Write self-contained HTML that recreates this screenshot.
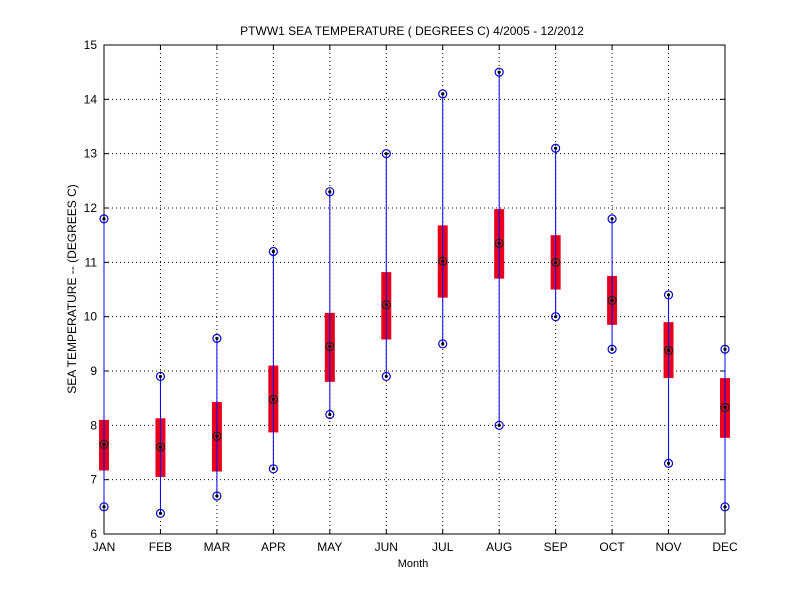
<!DOCTYPE html>
<html><head><style>body{margin:0;background:#fff}svg{display:block}</style></head><body>
<svg id="s" width="800" height="600" xmlns="http://www.w3.org/2000/svg" font-family="Liberation Sans, sans-serif" font-size="12">
<rect width="800" height="600" fill="#fff"/>
</svg>
<script>
const s=document.getElementById('s');
const X0=104,X1=725,Y0=45,Y1=534;
const xs=i=>X0+i*(X1-X0)/11, ys=v=>Y0+(15-v)*(Y1-Y0)/9;
let h='';
const m=['JAN','FEB','MAR','APR','MAY','JUN','JUL','AUG','SEP','OCT','NOV','DEC'];
for(let i=0;i<12;i++){const x=xs(i);
 h+=`<line x1="${x}" y1="${Y0}" x2="${x}" y2="${Y1}" stroke="#000" stroke-dasharray="1,3" stroke-width="1"/>`;
 h+=`<line x1="${x}" y1="${Y1}" x2="${x}" y2="${Y1-5}" stroke="#000"/><line x1="${x}" y1="${Y0}" x2="${x}" y2="${Y0+5}" stroke="#000"/>`;
 h+=`<text x="${x}" y="${Y1+17}" text-anchor="middle">${m[i]}</text>`;}
for(let v=6;v<=15;v++){const y=ys(v);
 h+=`<line x1="${X0}" y1="${y}" x2="${X1}" y2="${y}" stroke="#000" stroke-dasharray="1,3"/>`;
 h+=`<line x1="${X0}" y1="${y}" x2="${X0+5}" y2="${y}" stroke="#000"/><line x1="${X1}" y1="${y}" x2="${X1-5}" y2="${y}" stroke="#000"/>`;
 h+=`<text x="${X0-7}" y="${y+4}" text-anchor="end">${v}</text>`;}
h+=`<rect x="${X0}" y="${Y0}" width="${X1-X0}" height="${Y1-Y0}" fill="none" stroke="#000"/>`;
const d=[[11.8,6.5,7.17,8.1,7.65],[8.9,6.38,7.05,8.13,7.6],[9.6,6.7,7.15,8.43,7.8],[11.2,7.2,7.87,9.1,8.48],[12.3,8.2,8.8,10.07,9.45],[13.0,8.9,9.58,10.82,10.22],[14.1,9.5,10.35,11.68,11.02],[14.5,8.0,10.7,11.98,11.35],[13.1,10.0,10.5,11.5,11.0],[11.8,9.4,9.85,10.75,10.3],[10.4,7.3,8.87,9.9,9.38],[9.4,6.5,7.77,8.87,8.33]];
const mk=(x,y)=>`<circle cx="${x}" cy="${y}" r="4" fill="none" stroke="#0000cc" stroke-width="1.2"/><circle cx="${x}" cy="${y}" r="1.6" fill="#000"/>`;
d.forEach((r,i)=>{const x=xs(i);
 h+=`<line x1="${x}" y1="${ys(r[0])}" x2="${x}" y2="${ys(r[1])}" stroke="#0000ff"/>`;
 h+=`<rect x="${x-5}" y="${ys(r[3])}" width="10" height="${ys(r[2])-ys(r[3])}" fill="#e8001c"/>`;
 h+=`<line x1="${x}" y1="${ys(r[3])}" x2="${x}" y2="${ys(r[2])}" stroke="#0000ff"/>`;
 h+=mk(x,ys(r[0]))+mk(x,ys(r[1]))+`<circle cx="${x}" cy="${ys(r[4])}" r="4" fill="none" stroke="#222" stroke-width="1.2"/><circle cx="${x}" cy="${ys(r[4])}" r="1.6" fill="#000"/>`;});
h+=`<text x="412" y="35" text-anchor="middle">PTWW1  SEA TEMPERATURE ( DEGREES C) 4/2005 - 12/2012</text>`;
h+=`<text x="413" y="567" text-anchor="middle" font-size="11">Month</text>`;
h+=`<text transform="translate(76,289) rotate(-90)" text-anchor="middle">SEA TEMPERATURE -- (DEGREES C)</text>`;
s.insertAdjacentHTML('beforeend',h);
</script>
</body></html>
